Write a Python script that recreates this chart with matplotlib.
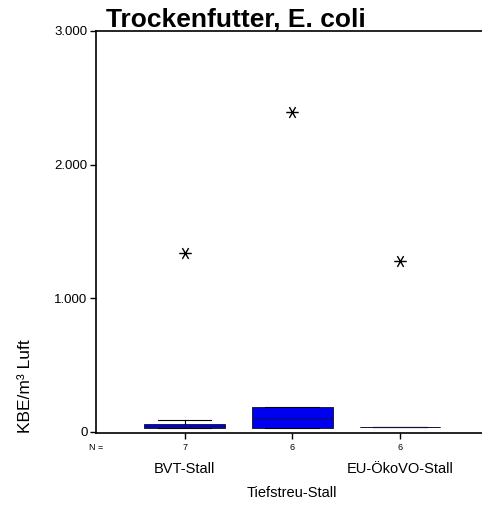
import matplotlib
matplotlib.use('Agg')
import matplotlib.pyplot as plt
import numpy as np
from matplotlib.path import Path
from matplotlib.ticker import FixedLocator

plt.rcParams['font.family'] = ['Liberation Sans', 'DejaVu Sans']

# data (KBE/m³ Luft)
groups = ['BVT-Stall', 'Tiefstreu-Stall', 'EU-ÖkoVO-Stall']
counts = [7, 6, 6]
whis_lo = [26, 30, 33]
q1 = [26, 30, 33]
med = [43, 103, 33]
q3 = [59, 185, 33]
whis_hi = [85, 185, 33]
outliers = [[1338], [2393], [1275]]
y_ticks = [0, 1000, 2000, 3000]
y_labels = ['0', '1.000', '2.000', '3.000']

# asterisk with a horizontal stroke, like the SPSS marker
verts, codes = [], []
for a in np.deg2rad([0, 60, 120]):
    verts += [(-np.cos(a), -np.sin(a)), (np.cos(a), np.sin(a))]
    codes += [Path.MOVETO, Path.LINETO]
star = Path(verts, codes)

fig = plt.figure(figsize=(4.82, 5.07), dpi=100)
ax = fig.add_axes([96 / 482, 1 - 433 / 507, 1 - 96 / 482, (433 - 31) / 507])

stats = []
for i in range(len(groups)):
    stats.append({'whislo': whis_lo[i], 'q1': q1[i], 'med': med[i], 'q3': q3[i],
                  'whishi': whis_hi[i], 'fliers': outliers[i]})

pos = list(range(1, len(groups) + 1))
bp = ax.bxp(stats, positions=pos, widths=0.75, patch_artist=True,
            boxprops=dict(facecolor='#0000f0', edgecolor='#111111', linewidth=0.6),
            medianprops=dict(color='#111144', linewidth=0.6),
            whiskerprops=dict(color='black', linewidth=0.8),
            capprops=dict(color='black', linewidth=0.8),
            capwidths=0.5,
            flierprops=dict(marker=star, markersize=9, markeredgecolor='black',
                            markeredgewidth=1.0, linestyle='none'))

ax.set_xlim(0.177, 3.763)
ax.set_ylim(-10, 3000)
ax.yaxis.set_major_locator(FixedLocator(y_ticks))
ax.set_yticklabels(y_labels, fontsize=9.5)
ax.set_xticks(pos)
ax.set_xticklabels([str(c) for c in counts], fontsize=6.5)
ax.tick_params(axis='y', length=4, width=1, pad=2)
ax.tick_params(axis='x', length=4, width=1, pad=3)
ax.spines['right'].set_visible(False)
for s in ['left', 'bottom', 'top']:
    ax.spines[s].set_linewidth(1.2)

tr = ax.get_xaxis_transform()
ax.text(0.02, -0.035, 'N =', transform=ax.transAxes, fontsize=6.5, ha='right', va='center')
for i, g in enumerate(groups):
    yoff = -0.149 if i == 1 else -0.0896
    ax.text(pos[i], yoff, g, transform=tr, fontsize=10.5, ha='center', va='center')

fig.text(106 / 482, 1 - 27 / 507, 'Trockenfutter, E. coli', fontsize=19,
         fontweight='bold', ha='left', va='baseline')
fig.text(26 / 482, 1 - 386 / 507, 'KBE/m³ Luft', fontsize=12.5, rotation=90,
         ha='center', va='center')

fig.savefig('out.png', dpi=100)
